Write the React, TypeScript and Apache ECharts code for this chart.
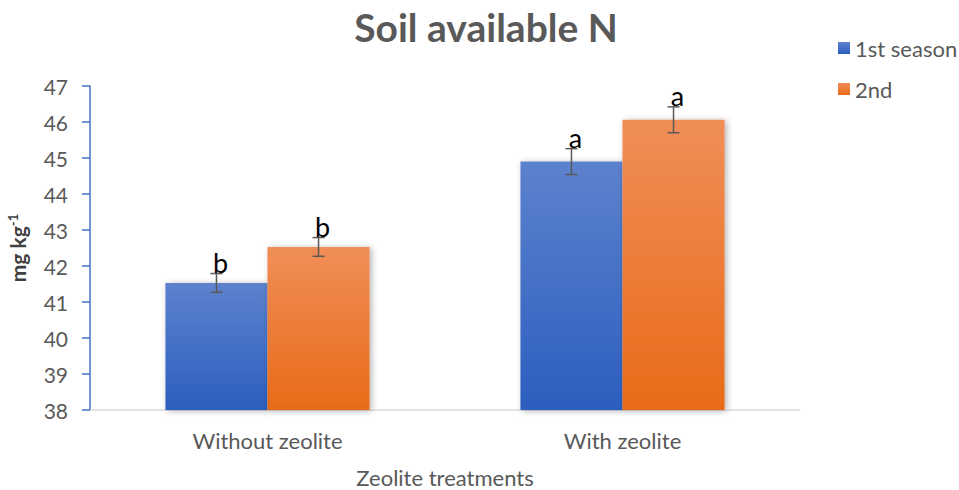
import React, { useEffect, useRef } from "react";
import * as echarts from "echarts";

const categories = ["Without zeolite", "With zeolite"];
const season1 = [41.53, 44.9];
const season2 = [42.53, 46.06];
const err1 = [0.26, 0.36];
const err2 = [0.26, 0.36];
const letters1 = ["b", "a"];
const letters2 = ["b", "a"];
const seriesNames = ["1st season", "2nd"];

const FONT = "Lato, 'Open Sans', sans-serif";

export default function App() {
  const ref = useRef<HTMLDivElement>(null);
  useEffect(() => {
    if (!ref.current) return;
    document.body.style.margin = "0";
    document.body.style.overflow = "hidden";
    const chart = echarts.init(ref.current, undefined, { renderer: "svg" });

    const errData: any[] = [];
    season1.forEach((v, i) => errData.push([i, v, err1[i], 0, letters1[i]]));
    season2.forEach((v, i) => errData.push([i, v, err2[i], 1, letters2[i]]));

    const renderErr = (params: any, api: any) => {
      const ci = api.value(0);
      const v = api.value(1);
      const e = api.value(2);
      const si = api.value(3);
      const letter = errData[params.dataIndex][4];
      const size = api.size([1, 0]);
      const catW = size[0];
      const barW = catW * (1 - 0.425) / 2;
      const center = api.coord([ci, v]);
      const x = center[0] + (si === 0 ? -barW / 2 : barW / 2);
      const top = api.coord([ci, v + e])[1];
      const bot = api.coord([ci, v - e])[1];
      const style = { stroke: "#595959", lineWidth: 1.5 };
      return {
        type: "group",
        children: [
          { type: "line", shape: { x1: x, y1: top, x2: x, y2: bot }, style },
          { type: "line", shape: { x1: x - 6, y1: top, x2: x + 6, y2: top }, style },
          { type: "line", shape: { x1: x - 6, y1: bot, x2: x + 6, y2: bot }, style },
          {
            type: "text",
            x: x + 4,
            y: top + 2,
            style: {
              text: letter,
              fill: "#000",
              font: `27px ${FONT}`,
              textAlign: "center",
              textVerticalAlign: "bottom",
            },
          },
        ],
      };
    };

    const blueGrad = new echarts.graphic.LinearGradient(0, 0, 0, 1, [
      { offset: 0, color: "#5d82cd" },
      { offset: 1, color: "#2c5ebf" },
    ]);
    const orangeGrad = new echarts.graphic.LinearGradient(0, 0, 0, 1, [
      { offset: 0, color: "#f08e58" },
      { offset: 1, color: "#e86b18" },
    ]);

    chart.setOption({
      animation: false,
      title: {
        text: "Soil available N",
        left: 481,
        top: 2,
        textAlign: "center",
        textStyle: { fontFamily: FONT, fontSize: 39, fontWeight: "bold", color: "#595959" },
      },
      legend: {
        orient: "vertical",
        left: 833,
        top: 32,
        itemWidth: 12,
        itemHeight: 12,
        itemGap: 19,
        icon: "rect",
        data: seriesNames,
        textStyle: { fontFamily: FONT, fontSize: 22, color: "#595959" },
      },
      grid: { left: 90, right: 159, top: 86, bottom: 80, containLabel: false, outerBoundsMode: "none" },
      xAxis: {
        type: "category",
        data: categories,
        name: "Zeolite treatments",
        nameLocation: "middle",
        nameGap: 56,
        nameTextStyle: { fontFamily: FONT, fontSize: 22, color: "#595959" },
        axisLine: { lineStyle: { color: "#d9d9d9", width: 1.5 } },
        axisTick: { show: false },
        axisLabel: { fontFamily: FONT, fontSize: 22, color: "#595959", margin: 19 },
      },
      yAxis: {
        type: "value",
        min: 38,
        max: 47,
        interval: 1,
        name: "{a|mg kg}{b|-1}",
        nameLocation: "middle",
        nameGap: 62,
        nameRotate: 90,
        nameTextStyle: {
          rich: {
            a: { fontFamily: FONT, fontSize: 21, fontWeight: "bold", color: "#404040" },
            b: { fontFamily: FONT, fontSize: 13, fontWeight: "bold", color: "#404040", verticalAlign: "top", padding: [0, 0, 9, 0] },
          },
        },
        splitLine: { show: false },
        axisLine: { show: true, lineStyle: { color: "#4472c4", width: 1.5 } },
        axisTick: { show: true, inside: false, length: 8, lineStyle: { color: "#4472c4", width: 1.5 } },
        axisLabel: { fontFamily: FONT, fontSize: 21, color: "#595959", margin: 22 },
      },
      series: [
        {
          name: seriesNames[0],
          type: "bar",
          data: season1,
          barGap: "0%",
          barCategoryGap: "42.5%",
          itemStyle: { color: blueGrad, shadowColor: "rgba(0,0,0,0.3)", shadowBlur: 6, shadowOffsetX: 2, shadowOffsetY: 1 },
        },
        {
          name: seriesNames[1],
          type: "bar",
          data: season2,
          barGap: "0%",
          barCategoryGap: "42.5%",
          itemStyle: { color: orangeGrad, shadowColor: "rgba(0,0,0,0.3)", shadowBlur: 6, shadowOffsetX: 2, shadowOffsetY: 1 },
        },
        {
          type: "custom",
          renderItem: renderErr,
          data: errData.map((d) => d.slice(0, 4)),
          z: 10,
          silent: true,
          encode: { x: 0, y: 1 },
        },
      ],
    });
    return () => chart.dispose();
  }, []);
  return <div ref={ref} style={{ width: 959, height: 490 }} />;
}
